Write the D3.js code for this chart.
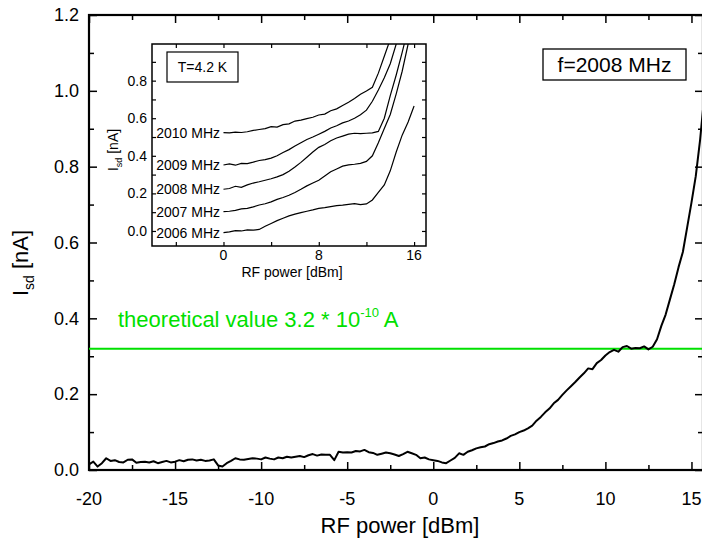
<!DOCTYPE html>
<html>
<head>
<meta charset="utf-8">
<script src="https://cdn.jsdelivr.net/npm/d3@7"></script>
<style>
  body { margin: 0; background: #fff; }
  svg { display: block; font-family: "Liberation Sans", Arial, sans-serif; }
</style>
</head>
<body>
<div id="container"></div>
<script>
// main curve, f = 2008 MHz, sampled every 0.25 dBm from -20
const mainStart = -20, mainStep = 0.25;
const mainCurrent = [
  0.015, 0.022, 0.009, 0.018, 0.031, 0.024, 0.026, 0.021,
  0.020, 0.027, 0.028, 0.019, 0.021, 0.022, 0.020, 0.023,
  0.018, 0.021, 0.024, 0.020, 0.022, 0.026, 0.023, 0.027,
  0.028, 0.025, 0.027, 0.024, 0.025, 0.028, 0.012, 0.009,
  0.018, 0.024, 0.031, 0.028, 0.027, 0.029, 0.031, 0.030,
  0.028, 0.033, 0.030, 0.028, 0.033, 0.031, 0.035, 0.033,
  0.035, 0.037, 0.034, 0.039, 0.042, 0.038, 0.041, 0.040,
  0.040, 0.026, 0.048, 0.046, 0.047, 0.046, 0.050, 0.049,
  0.053, 0.047, 0.045, 0.040, 0.043, 0.046, 0.044, 0.041,
  0.037, 0.042, 0.048, 0.044, 0.040, 0.031, 0.033, 0.028,
  0.026, 0.024, 0.020, 0.018, 0.025, 0.032, 0.044, 0.040,
  0.048, 0.052, 0.057, 0.060, 0.062, 0.068, 0.071, 0.075,
  0.078, 0.083, 0.090, 0.094, 0.100, 0.104, 0.110, 0.117,
  0.130, 0.140, 0.152, 0.162, 0.176, 0.185, 0.198, 0.210,
  0.221, 0.232, 0.244, 0.255, 0.268, 0.266, 0.282, 0.290,
  0.302, 0.311, 0.317, 0.312, 0.324, 0.327, 0.320, 0.322,
  0.321, 0.326, 0.318, 0.325, 0.345, 0.380, 0.410, 0.450,
  0.490, 0.535, 0.575, 0.640, 0.705, 0.775, 0.870, 0.990
];
const theoryValue = 0.32;

// inset curves, sampled every 0.5 dBm from 0
const insetStart = 0, insetStep = 0.5;
const insetFreqs = ["2006 MHz", "2007 MHz", "2008 MHz", "2009 MHz", "2010 MHz"];
const curve2006 = [-0.009, -0.005, 0.002, 0.000, 0.006, 0.004, 0.008, 0.025, 0.040, 0.055, 0.068, 0.080,
  0.090, 0.098, 0.105, 0.112, 0.120, 0.124, 0.130, 0.135, 0.138, 0.142, 0.145, 0.140, 0.144, 0.165,
  0.205, 0.245, 0.320, 0.420, 0.510, 0.580, 0.665];
const curve2007 = [0.103, 0.105, 0.110, 0.118, 0.120, 0.128, 0.138, 0.145, 0.155, 0.168, 0.178, 0.190,
  0.205, 0.222, 0.240, 0.255, 0.270, 0.292, 0.315, 0.330, 0.345, 0.352, 0.355, 0.360, 0.370, 0.400,
  0.470, 0.545, 0.620, 0.730, 0.850, 0.995, 1.100];
const curve2008 = [0.222, 0.226, 0.238, 0.232, 0.245, 0.255, 0.262, 0.270, 0.278, 0.288, 0.300, 0.318,
  0.340, 0.365, 0.392, 0.420, 0.445, 0.460, 0.480, 0.495, 0.505, 0.515, 0.520, 0.518, 0.520, 0.522,
  0.530, 0.600, 0.720, 0.830, 0.950, 1.080];
const curve2009 = [0.351, 0.357, 0.350, 0.360, 0.358, 0.366, 0.375, 0.380, 0.388, 0.400, 0.418, 0.433,
  0.452, 0.470, 0.487, 0.500, 0.515, 0.530, 0.548, 0.560, 0.575, 0.585, 0.600, 0.618, 0.643, 0.690,
  0.750, 0.815, 0.890, 0.995, 1.100];
const curve2010 = [0.523, 0.522, 0.526, 0.524, 0.528, 0.535, 0.540, 0.545, 0.555, 0.553, 0.566, 0.570,
  0.585, 0.590, 0.598, 0.605, 0.617, 0.622, 0.640, 0.650, 0.668, 0.685, 0.705, 0.728, 0.745, 0.765,
  0.840, 0.930, 1.020, 1.100];

const xTicks = [-20, -15, -10, -5, 0, 5, 10, 15];
const yTicks = [0, 0.2, 0.4, 0.6, 0.8, 1.0, 1.2];
const insetXTicks = [0, 8, 16];
const insetYTicks = [0, 0.2, 0.4, 0.6, 0.8];

const W = 702, H = 539;
const svg = d3.select('#container').append('svg').attr('width', W).attr('height', H);

// ---- main plot ----
const x = d3.scaleLinear().domain([-20, 15.67]).range([89, 703]);
const y = d3.scaleLinear().domain([0, 1.2]).range([470, 15]);

svg.append('clipPath').attr('id', 'mainClip')
  .append('rect').attr('x', 89).attr('y', 15).attr('width', 614).attr('height', 455);

function ticksOn(g, axisFn, scale, values, size) {
  g.call(axisFn(scale).tickValues(values).tickSizeInner(size).tickSizeOuter(0).tickFormat(''))
    .call(s => s.select('.domain').remove())
    .selectAll('line').attr('stroke', '#000').attr('stroke-width', 1.5);
}
const xMinor = d3.range(-17.5, 16, 5);
const yMinor = d3.range(0.1, 1.2, 0.2);
ticksOn(svg.append('g').attr('transform', 'translate(0,470)'), d3.axisBottom, x, xTicks, -8);
ticksOn(svg.append('g').attr('transform', 'translate(0,470)'), d3.axisBottom, x, xMinor, -5);
ticksOn(svg.append('g').attr('transform', 'translate(0,15)'), d3.axisTop, x, xTicks, -8);
ticksOn(svg.append('g').attr('transform', 'translate(0,15)'), d3.axisTop, x, xMinor, -5);
ticksOn(svg.append('g').attr('transform', 'translate(89,0)'), d3.axisLeft, y, yTicks, -8);
ticksOn(svg.append('g').attr('transform', 'translate(89,0)'), d3.axisLeft, y, yMinor, -5);
ticksOn(svg.append('g').attr('transform', 'translate(703,0)'), d3.axisRight, y, yTicks, -8);
ticksOn(svg.append('g').attr('transform', 'translate(703,0)'), d3.axisRight, y, yMinor, -5);

svg.append('rect').attr('x', 89).attr('y', 15).attr('width', 614).attr('height', 455)
  .attr('fill', 'none').attr('stroke', '#000').attr('stroke-width', 2.2);

svg.append('g').selectAll('text').data(xTicks).join('text')
  .attr('x', d => x(d)).attr('y', 505).attr('text-anchor', 'middle')
  .attr('font-size', 18).text(d => d);
svg.append('g').selectAll('text').data(yTicks).join('text')
  .attr('x', 79).attr('y', d => y(d)).attr('dy', '0.35em').attr('text-anchor', 'end')
  .attr('font-size', 18).text(d => d.toFixed(1));

svg.append('text').attr('x', 400).attr('y', 533).attr('text-anchor', 'middle')
  .attr('font-size', 22).text('RF power [dBm]');
const yl = svg.append('text').attr('transform', 'translate(28,263) rotate(-90)')
  .attr('text-anchor', 'middle').attr('font-size', 22);
yl.append('tspan').text('I');
yl.append('tspan').attr('font-size', 14).attr('dy', 6).text('sd');
yl.append('tspan').attr('dy', -6).text(' [nA]');

// theoretical line
svg.append('line').attr('x1', 89).attr('x2', 703).attr('y1', y(theoryValue)).attr('y2', y(theoryValue))
  .attr('stroke', '#00e000').attr('stroke-width', 2);
const th = svg.append('text').attr('x', 118).attr('y', 327).attr('font-size', 22).attr('fill', '#00e000');
th.append('tspan').text('theoretical value 3.2 * 10');
th.append('tspan').attr('font-size', 13).attr('dy', -10).text('-10');
th.append('tspan').attr('dy', 10).text(' A');

// main curve
const mainData = mainCurrent.map((v, i) => [mainStart + i * mainStep, v]);
svg.append('path').datum(mainData).attr('clip-path', 'url(#mainClip)')
  .attr('fill', 'none').attr('stroke', '#000').attr('stroke-width', 2).attr('stroke-linejoin', 'round')
  .attr('d', d3.line().x(d => x(d[0])).y(d => y(d[1])));

// frequency box
svg.append('rect').attr('x', 543).attr('y', 49).attr('width', 143).attr('height', 31)
  .attr('fill', '#fff').attr('stroke', '#000').attr('stroke-width', 1.3);
svg.append('text').attr('x', 614.5).attr('y', 72).attr('text-anchor', 'middle')
  .attr('font-size', 21).text('f=2008 MHz');

// ---- inset ----
const ix = d3.scaleLinear().domain([-6, 17]).range([152, 426]);
const iy = d3.scaleLinear().domain([-0.08, 0.995]).range([246, 44]);
const inset = svg.append('g');
inset.append('rect').attr('x', 152).attr('y', 44).attr('width', 274).attr('height', 202).attr('fill', '#fff');
svg.append('clipPath').attr('id', 'insetClip')
  .append('rect').attr('x', 152).attr('y', 44).attr('width', 274).attr('height', 202);

const ixT = d3.range(-4, 17, 4);
const iyT = d3.range(0, 1.0, 0.1);
ticksOn(inset.append('g').attr('transform', 'translate(0,246)'), d3.axisBottom, ix, ixT, -4);
ticksOn(inset.append('g').attr('transform', 'translate(0,44)'), d3.axisTop, ix, ixT, -4);
ticksOn(inset.append('g').attr('transform', 'translate(152,0)'), d3.axisLeft, iy, iyT, -4);
ticksOn(inset.append('g').attr('transform', 'translate(426,0)'), d3.axisRight, iy, iyT, -4);
inset.selectAll('line').attr('stroke-width', 1.2);

const curves = [curve2006, curve2007, curve2008, curve2009, curve2010];
const iline = d3.line().x(d => ix(d[0])).y(d => iy(d[1]));
curves.forEach((c, k) => {
  const pts = c.map((v, i) => [insetStart + i * insetStep, v]);
  inset.append('path').datum(pts).attr('clip-path', 'url(#insetClip)')
    .attr('fill', 'none').attr('stroke', '#000').attr('stroke-width', 1.2).attr('d', iline);
  inset.append('text').attr('x', 220).attr('y', iy(c[0])).attr('dy', '0.35em')
    .attr('text-anchor', 'end').attr('font-size', 14).text(insetFreqs[k]);
});

inset.append('rect').attr('x', 152).attr('y', 44).attr('width', 274).attr('height', 202)
  .attr('fill', 'none').attr('stroke', '#000').attr('stroke-width', 1.5);

inset.selectAll(null).data(insetXTicks).join('text')
  .attr('x', d => ix(d)).attr('y', 260).attr('text-anchor', 'middle')
  .attr('font-size', 14).text(d => d);
inset.selectAll(null).data(insetYTicks).join('text')
  .attr('x', 147).attr('y', d => iy(d)).attr('dy', '0.35em').attr('text-anchor', 'end')
  .attr('font-size', 14).text(d => d.toFixed(1));
inset.append('text').attr('x', 292).attr('y', 276.5).attr('text-anchor', 'middle')
  .attr('font-size', 14).text('RF power [dBm]');
const iyl = inset.append('text').attr('transform', 'translate(118,150) rotate(-90)')
  .attr('text-anchor', 'middle').attr('font-size', 14);
iyl.append('tspan').text('I');
iyl.append('tspan').attr('font-size', 9).attr('dy', 4).text('sd');
iyl.append('tspan').attr('dy', -4).text(' [nA]');

inset.append('rect').attr('x', 167).attr('y', 52).attr('width', 71).attr('height', 30)
  .attr('fill', '#fff').attr('stroke', '#000').attr('stroke-width', 1.2);
inset.append('text').attr('x', 202.5).attr('y', 71.5).attr('text-anchor', 'middle')
  .attr('font-size', 14).text('T=4.2 K');
</script>
</body>
</html>
